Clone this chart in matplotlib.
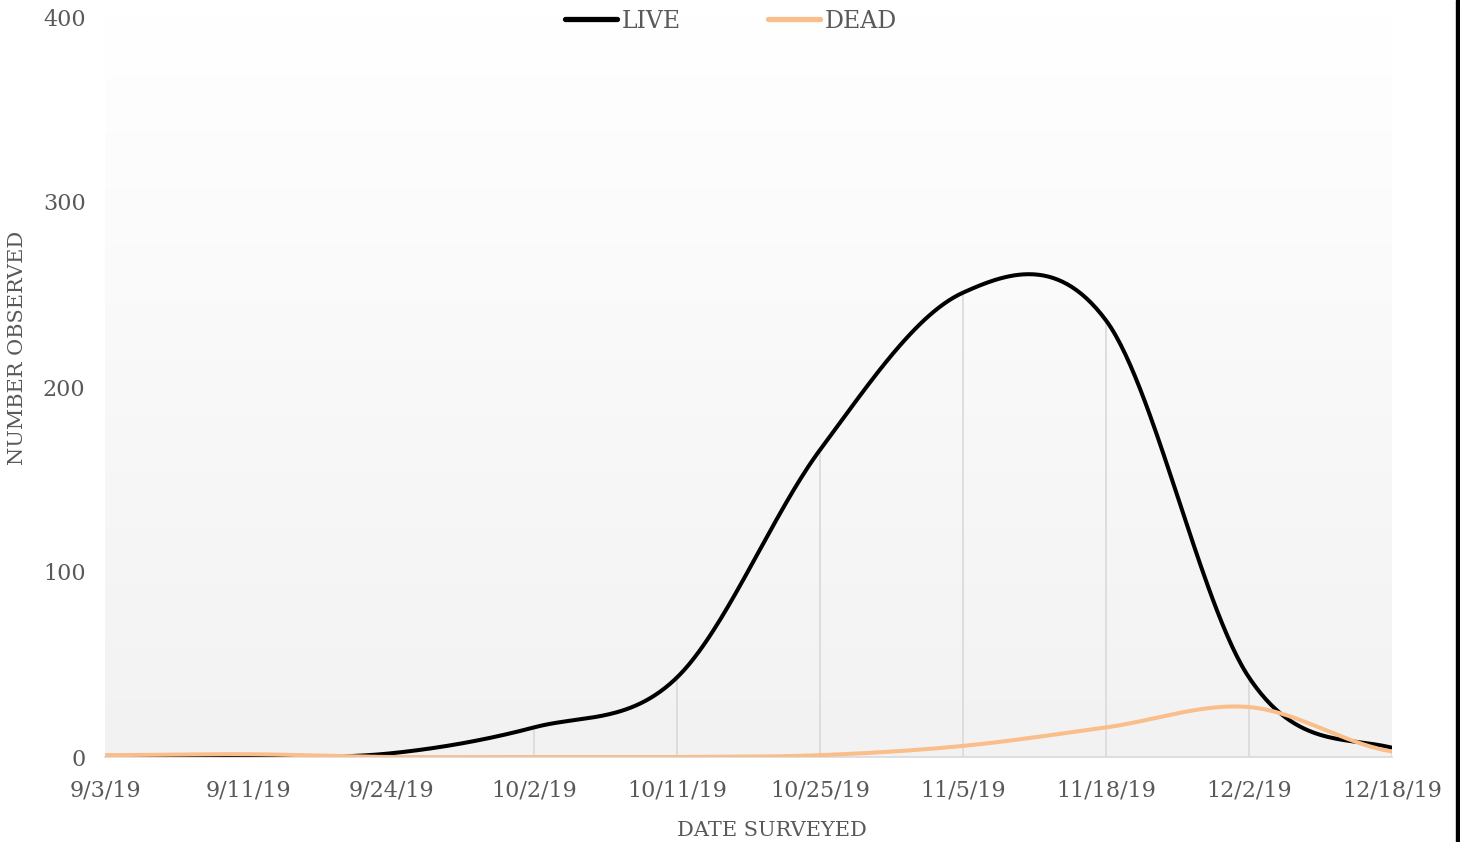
import numpy as np
import matplotlib
matplotlib.use("Agg")
import matplotlib.pyplot as plt
from matplotlib.lines import Line2D

dates = ["9/3/19", "9/11/19", "9/24/19", "10/2/19", "10/11/19", "10/25/19",
         "11/5/19", "11/18/19", "12/2/19", "12/18/19"]
live = [0, 0, 2, 16, 43, 166, 251, 236, 43, 5]
dead = [1, 1.5, 0, 0, 0, 1, 6, 16, 27, 3]

LIVE_COLOR = "#000000"
DEAD_COLOR = "#F9BE89"
TEXT_COLOR = "#595959"
FONT = "DejaVu Serif"


def smooth(y, n=60):
    # Catmull-Rom style curve, roughly what Excel's "smoothed line" does
    y = np.asarray(y, dtype=float)
    x = np.arange(len(y), dtype=float)
    xs, ys = [], []
    for i in range(len(y) - 1):
        y0 = y[i - 1] if i > 0 else y[i]
        y3 = y[i + 2] if i + 2 < len(y) else y[i + 1]
        m1 = (y[i + 1] - y0) / 2
        m2 = (y3 - y[i]) / 2
        if i == 0:
            m1 = (y[1] - y[0]) / 2
        if i + 2 >= len(y):
            m2 = (y[i + 1] - y[i]) / 2
        t = np.linspace(0, 1, n)
        h00 = 2 * t**3 - 3 * t**2 + 1
        h10 = t**3 - 2 * t**2 + t
        h01 = -2 * t**3 + 3 * t**2
        h11 = t**3 - t**2
        xs.append(x[i] + t)
        ys.append(h00 * y[i] + h10 * m1 + h01 * y[i + 1] + h11 * m2)
    return np.concatenate(xs), np.concatenate(ys)


fig = plt.figure(figsize=(14.6, 8.42), dpi=100)
ax = fig.add_axes([105 / 1460, 1 - 757 / 842, (1392 - 105) / 1460, (757 - 17) / 842])

# background gradient, white at top to light grey at bottom
grad = np.linspace(1.0, 0.949, 256).reshape(-1, 1)
ax.imshow(np.dstack([grad, grad, grad]), extent=[0, 9, 0, 400], aspect="auto",
          zorder=0, interpolation="bicubic")

x = np.arange(len(dates))
# drop lines
for xi, a, b in zip(x, live, dead):
    ax.plot([xi, xi], [0, max(a, b)], color="#D9D9D9", lw=1.2, zorder=1)

xl, yl = smooth(live)
xd, yd = smooth(dead)
ax.plot(xl, yl, color=LIVE_COLOR, lw=2.9, solid_capstyle="round", zorder=3)
ax.plot(xd, yd, color=DEAD_COLOR, lw=2.9, solid_capstyle="round", zorder=4)

ax.set_xlim(0, 9)
ax.set_ylim(0, 400)
ax.set_yticks([0, 100, 200, 300, 400])
ax.set_xticks(x)
ax.set_xticklabels(dates)
for s in ["top", "right", "left"]:
    ax.spines[s].set_visible(False)
ax.spines["bottom"].set_color("#D9D9D9")
ax.spines["bottom"].set_linewidth(1.2)
ax.tick_params(length=0, labelsize=16, labelcolor=TEXT_COLOR)
ax.tick_params(axis="y", pad=14)
ax.tick_params(axis="x", pad=16)
for lab in ax.get_xticklabels() + ax.get_yticklabels():
    lab.set_family(FONT)

fig.text(772 / 1460, 1 - 830 / 842, "DATE SURVEYED", ha="center", va="center",
         fontsize=15, color=TEXT_COLOR, family=FONT)
fig.text(18 / 1460, 1 - 348 / 842, "NUMBER OBSERVED", ha="center", va="center",
         rotation=90, fontsize=15, color=TEXT_COLOR, family=FONT)

handles = [Line2D([], [], color=LIVE_COLOR, lw=3.8, solid_capstyle="round"),
           Line2D([], [], color=DEAD_COLOR, lw=3.8, solid_capstyle="round")]
fig.legend(handles, ["LIVE", "DEAD"], loc="center", bbox_to_anchor=(731 / 1460, 1 - 21 / 842),
           ncol=2, frameon=False, handlelength=2.2, handletextpad=0.2,
           columnspacing=3.7, prop={"family": FONT, "size": 17},
           labelcolor=TEXT_COLOR)

# black strip at the right edge of the picture
fig.patches.append(plt.Rectangle((1456 / 1460, 0), 4 / 1460, 1, transform=fig.transFigure,
                                 color="black", zorder=10))

fig.savefig("out.png", dpi=100)
